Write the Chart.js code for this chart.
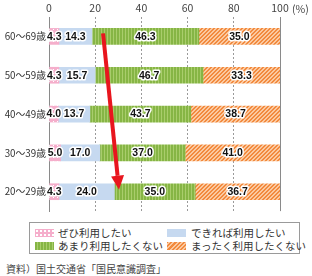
<!DOCTYPE html>
<html>
<head>
<meta charset="utf-8">
<script src="https://cdn.jsdelivr.net/npm/chart.js@4/dist/chart.umd.min.js"></script>
<style>
  html,body{margin:0;padding:0;background:#fff;}
  body{width:312px;height:276px;position:relative;overflow:hidden;font-family:"Noto Sans CJK JP","Noto Sans",sans-serif;}
  #wrap{position:absolute;left:0;top:0;width:312px;height:220px;}
  #legend{position:absolute;left:29px;top:222px;width:269px;height:30px;border:1px solid #9a9a9a;box-sizing:content-box;}
  .li{position:absolute;font-size:10.5px;color:#333;line-height:12px;white-space:nowrap;}
  .sw{position:absolute;width:19px;height:8px;}
  #src{position:absolute;left:6px;top:261px;font-size:10px;color:#444;white-space:nowrap;}
</style>
</head>
<body>
<div id="wrap"><canvas id="c" width="312" height="220"></canvas></div>
<div id="legend">
  <div class="sw" style="left:5px;top:6px;background-color:#f5aecb;background-image:radial-gradient(circle,#fff 0.8px,transparent 1.1px);background-size:4px 4px;"></div>
  <div class="li" style="left:28px;top:4px;">ぜひ利用したい</div>
  <div class="sw" style="left:137px;top:6px;background:#c6d9f0;"></div>
  <div class="li" style="left:161px;top:4px;">できれば利用したい</div>
  <div class="sw" style="left:5px;top:19px;background:repeating-linear-gradient(90deg,#86b545 0,#86b545 2px,#a9cd6c 2px,#a9cd6c 3px);"></div>
  <div class="li" style="left:28px;top:17px;">あまり利用したくない</div>
  <div class="sw" style="left:137px;top:19px;background:repeating-linear-gradient(-45deg,#f28a3e 0,#f28a3e 1.5px,#fbc9a0 1.5px,#fbc9a0 3px);"></div>
  <div class="li" style="left:161px;top:17px;">まったく利用したくない</div>
</div>
<div id="src">資料）国土交通省「国民意識調査」</div>
<script>
const categories = ['60～69歳','50～59歳','40～49歳','30～39歳','20～29歳'];
const seriesNames = ['ぜひ利用したい','できれば利用したい','あまり利用したくない','まったく利用したくない'];
const definitely = [4.3, 4.3, 4.0, 5.0, 4.3];
const ifPossible = [14.3, 15.7, 13.7, 17.0, 24.0];
const ratherNot  = [46.3, 46.7, 43.7, 37.0, 35.0];
const never      = [35.0, 33.3, 38.7, 41.0, 36.7];
const xTicks = [0, 20, 40, 60, 80, 100];
// arrow: from (value, category) to (value, category)
const arrowFrom = [23.4, 0];
const arrowTo   = [30.3, 4];

function makePattern(w, h, draw){
  const c = document.createElement('canvas'); c.width = w; c.height = h;
  const g = c.getContext('2d'); draw(g);
  return document.getElementById('c').getContext('2d').createPattern(c, 'repeat');
}
const pinkPat = makePattern(4, 4, g => {
  g.fillStyle = '#f5aecb'; g.fillRect(0,0,4,4);
  g.fillStyle = '#ffffff'; g.fillRect(1,1,1,1);
});
const greenPat = makePattern(3, 3, g => {
  g.fillStyle = '#86b545'; g.fillRect(0,0,3,3);
  g.fillStyle = '#a9cd6c'; g.fillRect(2,0,1,3);
});
const orangePat = makePattern(4, 4, g => {
  g.fillStyle = '#f28a3e'; g.fillRect(0,0,4,4);
  g.fillStyle = '#fbc9a0';
  for (let i=0;i<4;i++){ g.fillRect((3-i+4)%4, i, 1, 1); g.fillRect((3-i+5)%4, i, 1, 1); }
});

const labelPlugin = {
  id: 'segLabels',
  afterDatasetsDraw(chart){
    const ctx = chart.ctx;
    ctx.save();
    ctx.font = 'bold 10.5px "Liberation Sans", Arial, sans-serif';
    ctx.textAlign = 'center'; ctx.textBaseline = 'middle';
    ctx.lineJoin = 'round';
    chart.data.datasets.forEach((ds, di) => {
      const meta = chart.getDatasetMeta(di);
      meta.data.forEach((el, i) => {
        const cx = (el.x + el.base) / 2;
        const txt = ds.data[i].toFixed(1);
        ctx.strokeStyle = '#fff'; ctx.lineWidth = 3;
        ctx.strokeText(txt, cx, el.y + 0.5);
        ctx.fillStyle = '#111';
        ctx.fillText(txt, cx, el.y + 0.5);
      });
    });
    // arrow
    const xs = chart.scales.x, ys = chart.scales.y;
    const x1 = xs.getPixelForValue(arrowFrom[0]), y1 = ys.getPixelForValue(arrowFrom[1]) - 3;
    const x2 = xs.getPixelForValue(arrowTo[0]), y2 = ys.getPixelForValue(arrowTo[1]) - 2;
    const ang = Math.atan2(y2 - y1, x2 - x1);
    const headLen = 14, headW = 6.5;
    const bx = x2 - headLen * Math.cos(ang), by = y2 - headLen * Math.sin(ang);
    ctx.strokeStyle = '#e8161e'; ctx.lineWidth = 4; ctx.lineCap = 'butt';
    ctx.beginPath(); ctx.moveTo(x1, y1); ctx.lineTo(bx, by); ctx.stroke();
    ctx.fillStyle = '#e8161e';
    ctx.beginPath();
    ctx.moveTo(x2, y2);
    ctx.lineTo(bx + headW * Math.sin(ang), by - headW * Math.cos(ang));
    ctx.lineTo(bx - headW * Math.sin(ang), by + headW * Math.cos(ang));
    ctx.closePath(); ctx.fill();
    ctx.restore();
  }
};
const gridPlugin = {
  id: 'extraGrid',
  beforeDatasetsDraw(chart){
    const ctx = chart.ctx, xs = chart.scales.x, a = chart.chartArea;
    ctx.save();
    ctx.strokeStyle = '#8a8a8a'; ctx.lineWidth = 1;
    const x100 = Math.round(xs.getPixelForValue(100)) + 0.5;
    ctx.beginPath(); ctx.moveTo(x100, a.top); ctx.lineTo(x100, a.bottom); ctx.stroke();
    ctx.restore();
  },
  afterDraw(chart){
    const ctx = chart.ctx, xs = chart.scales.x;
    ctx.save();
    ctx.font = '10.5px "Noto Sans CJK JP", sans-serif';
    ctx.fillStyle = '#444'; ctx.textAlign = 'left'; ctx.textBaseline = 'middle';
    ctx.fillText('(%)', xs.getPixelForValue(100) + 12, 9);
    ctx.restore();
  }
};

new Chart(document.getElementById('c'), {
  type: 'bar',
  data: {
    labels: categories,
    datasets: [
      {label: seriesNames[0], data: definitely, backgroundColor: pinkPat},
      {label: seriesNames[1], data: ifPossible, backgroundColor: '#c6d9f0'},
      {label: seriesNames[2], data: ratherNot, backgroundColor: greenPat},
      {label: seriesNames[3], data: never, backgroundColor: orangePat}
    ]
  },
  options: {
    indexAxis: 'y',
    responsive: false,
    animation: false,
    events: [],
    layout: {padding: {left: 0, right: 32, top: 0, bottom: 3}},
    datasets: {bar: {barThickness: 16, borderWidth: 0}},
    plugins: {legend: {display: false}, tooltip: {enabled: false}},
    scales: {
      x: {
        stacked: true, min: 0, max: 100, position: 'top',
        afterBuildTicks: s => { s.ticks = xTicks.map(v => ({value: v})); },
        afterFit: s => { s.height = 17; },
        ticks: {padding: 3, color: '#444', font: {size: 10.5, family: '"Noto Sans CJK JP", sans-serif'}, maxRotation: 0},
        grid: {drawTicks: false, color: c => (c.tick && (c.tick.value === 0 || c.tick.value === 100)) ? 'rgba(0,0,0,0)' : '#9a9a9a', lineWidth: 1},
        border: {display: false, dash: [2, 2]}
      },
      y: {
        stacked: true,
        afterFit: s => { s.width = 49; },
        ticks: {padding: 3, color: '#333', font: {size: 9.8, family: '"Noto Sans CJK JP", sans-serif'}},
        grid: {display: false, drawTicks: false},
        border: {display: true, color: '#8a8a8a', width: 1}
      }
    }
  },
  plugins: [gridPlugin, labelPlugin]
});
</script>
</body>
</html>
